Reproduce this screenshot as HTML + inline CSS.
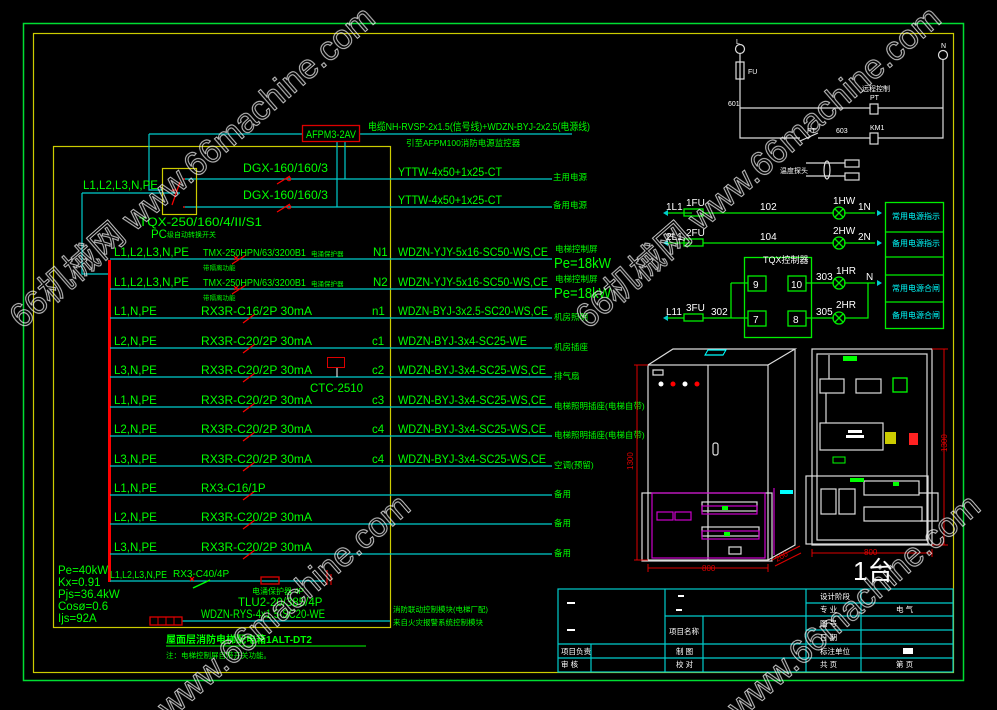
<!DOCTYPE html>
<html><head><meta charset="utf-8"><style>
html,body{margin:0;padding:0;background:#000;width:997px;height:710px;overflow:hidden}
svg{display:block}
text{font-family:"Liberation Sans","Noto Sans CJK SC",sans-serif}
.g{fill:#00ff00}
.w{fill:#fff}
.cy{fill:#00ffff}
</style></head><body>
<svg width="997" height="710" viewBox="0 0 997 710" xmlns="http://www.w3.org/2000/svg">
<rect width="997" height="710" fill="#000"/>
<rect x="23.5" y="23.5" width="940" height="657" fill="none" stroke="#00dd33" stroke-width="1.5"/>
<rect x="33.5" y="33.5" width="920" height="639" fill="none" stroke="#cccc00" stroke-width="1.2"/>

<rect x="53.5" y="146.5" width="337" height="481" fill="none" stroke="#cccc00" stroke-width="1.2"/>
<rect x="108" y="260" width="3" height="322" fill="#ff0000"/>

<g stroke="#00cccc" stroke-width="1.2" fill="none">
<path d="M149 134 H302 M360 134 H572"/>
<path d="M149 134 V190 H162"/>
<path d="M82 193 H180 M82 193 V274 H108"/>
<path d="M337 142 V207 M345 142 V179"/>
<path d="M183 179 H552 M183 207 H552"/>
<path d="M110 259 H552 M110 289 H552 M110 318 H552 M110 348 H552 M110 377 H552 M110 407 H552 M110 436 H552 M110 466 H552 M110 495 H552 M110 524 H552 M110 554 H552"/>
<path d="M110 581 H325 M182 621 H390"/>
</g>
<rect x="302.5" y="125.5" width="57" height="16" fill="none" stroke="#dd0000" stroke-width="1.3"/>
<text x="331" y="138" class="g" font-size="11" text-anchor="middle" textLength="50" lengthAdjust="spacingAndGlyphs">AFPM3-2AV</text>
<rect x="162.5" y="168.5" width="34" height="46" fill="none" stroke="#cccc00" stroke-width="1.2"/>
<g stroke="#ff0000" stroke-width="1.2" fill="none">
<path d="M180 182 L172 205 M183 179 h2 M183 207 h2 M172 190 h4"/>
<path d="M277 184 L290 176 M277 212 L290 204"/>
</g>
<circle cx="289" cy="179" r="1.8" fill="none" stroke="#f00"/><circle cx="289" cy="207" r="1.8" fill="none" stroke="#f00"/>
<g stroke="#ff0000" stroke-width="1.2" fill="none">
<path d="M232 264 L246 255 M232 294 L246 285 M243 323 L255 314 M243 353 L255 344 M243 382 L255 373 M243 412 L255 403 M243 441 L255 432 M243 471 L255 462 M243 500 L255 491 M243 529 L255 520 M243 559 L255 550"/>
<path d="M234 256 l4 4 M238 256 l-4 4 M234 286 l4 4 M238 286 l-4 4"/>
<path d="M190 577 l4 4 M194 577 l-4 4"/>
</g>
<path d="M193 588 L210 580" stroke="#00ff00" stroke-width="1.5"/>
<rect x="261" y="577" width="18" height="7" fill="none" stroke="#dd0000" stroke-width="1.3"/>
<path d="M327 570 V585 M331 574 V585" stroke="#f00"/>
<rect x="150" y="617" width="32" height="8" fill="none" stroke="#dd0000" stroke-width="1.3"/>
<path d="M158 617V625M166 617V625M174 617V625" stroke="#d00"/>
<rect x="327.5" y="357.5" width="17" height="10" fill="none" stroke="#dd0000"/>
<path d="M337 368 V377" stroke="#fff"/>

<g class="g" font-size="11.5" lengthAdjust="spacingAndGlyphs">
<text x="368" y="130" font-size="10.5" textLength="222" lengthAdjust="spacingAndGlyphs">电缆NH-RVSP-2x1.5(信号线)+WDZN-BYJ-2x2.5(电源线)</text>
<text x="406" y="146" font-size="8.5">引至AFPM100消防电源监控器</text>
<text x="243" y="172" textLength="85" lengthAdjust="spacingAndGlyphs">DGX-160/160/3</text>
<text x="243" y="199" textLength="85" lengthAdjust="spacingAndGlyphs">DGX-160/160/3</text>
<text x="398" y="176" textLength="104" lengthAdjust="spacingAndGlyphs">YTTW-4x50+1x25-CT</text>
<text x="398" y="204" textLength="104" lengthAdjust="spacingAndGlyphs">YTTW-4x50+1x25-CT</text>
<text x="553" y="180" font-size="8.5">主用电源</text>
<text x="553" y="208" font-size="8.5">备用电源</text>
<text x="83" y="189" textLength="75" lengthAdjust="spacingAndGlyphs">L1,L2,L3,N,PE</text>
<text x="139" y="226" textLength="123" lengthAdjust="spacingAndGlyphs">TQX-250/160/4/II/S1</text>
<text x="151" y="238">PC</text><text x="167" y="237" font-size="7">级自动转换开关</text>
<text x="114" y="256" textLength="75" lengthAdjust="spacingAndGlyphs">L1,L2,L3,N,PE</text>
<text x="114" y="286" textLength="75" lengthAdjust="spacingAndGlyphs">L1,L2,L3,N,PE</text>
<text x="203" y="256" font-size="10" textLength="103" lengthAdjust="spacingAndGlyphs">TMX-250HPN/63/3200B1</text>
<text x="203" y="286" font-size="10" textLength="103" lengthAdjust="spacingAndGlyphs">TMX-250HPN/63/3200B1</text>
<text x="311" y="256" font-size="6.5">电涌保护器</text>
<text x="311" y="286" font-size="6.5">电涌保护器</text>
<text x="203" y="270" font-size="6.5">带隔离功能</text>
<text x="203" y="300" font-size="6.5">带隔离功能</text>
<text x="373" y="256">N1</text><text x="373" y="286">N2</text>
<text x="398" y="256" textLength="150" lengthAdjust="spacingAndGlyphs">WDZN-YJY-5x16-SC50-WS,CE</text>
<text x="398" y="286" textLength="150" lengthAdjust="spacingAndGlyphs">WDZN-YJY-5x16-SC50-WS,CE</text>
<text x="555" y="252" font-size="8.5">电梯控制屏</text>
<text x="554" y="268" font-size="15" textLength="57" lengthAdjust="spacingAndGlyphs">Pe=18kW</text>
<text x="555" y="282" font-size="8.5">电梯控制屏</text>
<text x="554" y="298" font-size="15" textLength="57" lengthAdjust="spacingAndGlyphs">Pe=18kW</text>
<text x="114" y="315">L1,N,PE</text><text x="201" y="315" textLength="111" lengthAdjust="spacingAndGlyphs">RX3R-C16/2P 30mA</text><text x="372" y="315">n1</text><text x="398" y="315" textLength="150" lengthAdjust="spacingAndGlyphs">WDZN-BYJ-3x2.5-SC20-WS,CE</text><text x="554" y="320" font-size="8.5">机房照明</text>
<text x="114" y="345">L2,N,PE</text><text x="201" y="345" textLength="111" lengthAdjust="spacingAndGlyphs">RX3R-C20/2P 30mA</text><text x="372" y="345">c1</text><text x="398" y="345" textLength="129" lengthAdjust="spacingAndGlyphs">WDZN-BYJ-3x4-SC25-WE</text><text x="554" y="350" font-size="8.5">机房插座</text>
<text x="114" y="374">L3,N,PE</text><text x="201" y="374" textLength="111" lengthAdjust="spacingAndGlyphs">RX3R-C20/2P 30mA</text><text x="372" y="374">c2</text><text x="398" y="374" textLength="148" lengthAdjust="spacingAndGlyphs">WDZN-BYJ-3x4-SC25-WS,CE</text><text x="554" y="379" font-size="8.5">排气扇</text>
<text x="310" y="392">CTC-2510</text>
<text x="114" y="404">L1,N,PE</text><text x="201" y="404" textLength="111" lengthAdjust="spacingAndGlyphs">RX3R-C20/2P 30mA</text><text x="372" y="404">c3</text><text x="398" y="404" textLength="148" lengthAdjust="spacingAndGlyphs">WDZN-BYJ-3x4-SC25-WS,CE</text><text x="554" y="409" font-size="8.5">电梯照明插座(电梯自带)</text>
<text x="114" y="433">L2,N,PE</text><text x="201" y="433" textLength="111" lengthAdjust="spacingAndGlyphs">RX3R-C20/2P 30mA</text><text x="372" y="433">c4</text><text x="398" y="433" textLength="148" lengthAdjust="spacingAndGlyphs">WDZN-BYJ-3x4-SC25-WS,CE</text><text x="554" y="438" font-size="8.5">电梯照明插座(电梯自带)</text>
<text x="114" y="463">L3,N,PE</text><text x="201" y="463" textLength="111" lengthAdjust="spacingAndGlyphs">RX3R-C20/2P 30mA</text><text x="372" y="463">c4</text><text x="398" y="463" textLength="148" lengthAdjust="spacingAndGlyphs">WDZN-BYJ-3x4-SC25-WS,CE</text><text x="554" y="468" font-size="8.5">空调(预留)</text>
<text x="114" y="492">L1,N,PE</text><text x="201" y="492">RX3-C16/1P</text><text x="554" y="497" font-size="8.5">备用</text>
<text x="114" y="521">L2,N,PE</text><text x="201" y="521" textLength="111" lengthAdjust="spacingAndGlyphs">RX3R-C20/2P 30mA</text><text x="554" y="526" font-size="8.5">备用</text>
<text x="114" y="551">L3,N,PE</text><text x="201" y="551" textLength="111" lengthAdjust="spacingAndGlyphs">RX3R-C20/2P 30mA</text><text x="554" y="556" font-size="8.5">备用</text>
<text x="110" y="578" font-size="10" textLength="57" lengthAdjust="spacingAndGlyphs">L1,L2,L3,N,PE</text><text x="173" y="577" font-size="10">RX3-C40/4P</text>
<text x="252" y="594" font-size="8">电涌保护器 4P</text>
<text x="238" y="606">TLU2-20/385/4P</text>
<text x="201" y="618" textLength="124" lengthAdjust="spacingAndGlyphs">WDZN-RYS-4x1.5-SC20-WE</text>
<text x="393" y="612" font-size="7.5">消防联动控制模块(电梯厂配)</text>
<text x="393" y="625" font-size="7.5">来自火灾报警系统控制模块</text>
<text x="58" y="574">Pe=40kW</text>
<text x="58" y="586">Kx=0.91</text>
<text x="58" y="598">Pjs=36.4kW</text>
<text x="58" y="610">Cosø=0.6</text>
<text x="58" y="622">Ijs=92A</text>
<text x="166" y="643" font-size="10" font-weight="bold">屋面层消防电梯配电箱1ALT-DT2</text>
<text x="166" y="658" font-size="7.5">注：电梯控制屏自带开关功能。</text>
</g>
<path d="M166 646 H366" stroke="#00ff00"/>

<g stroke="#ddd" stroke-width="1.2" fill="none">
<circle cx="740" cy="49" r="4.5"/><circle cx="943" cy="55" r="4.5"/>
<rect x="736" y="62" width="8" height="17"/>
<path d="M740 54 V138 H800 M800 141 L818 133 M818 138 H870 M878 138 H943 V60"/>
<path d="M740 108 H870 M878 108 H943"/>
<rect x="870" y="104" width="8" height="10"/><rect x="870" y="133" width="8" height="11"/>
<path d="M806 163 H845 M806 176 H845"/><ellipse cx="827" cy="170" rx="3" ry="9"/>
<rect x="845" y="160" width="14" height="7"/><rect x="845" y="173" width="14" height="7"/>
</g>
<g class="w" font-size="7">
<text x="736" y="44">L</text><text x="941" y="48">N</text>
<text x="748" y="74">FU</text><text x="728" y="106">601</text>
<text x="862" y="91">远程控制</text><text x="870" y="100">PT</text>
<text x="807" y="133">PT</text><text x="836" y="133">603</text><text x="870" y="130">KM1</text>
<text x="780" y="173">温度探头</text>
</g>
<g stroke="#00ee00" stroke-width="1.3" fill="none">
<path d="M666 213 H692 M703 213 H834 M844 213 H875 M666 243 H692 M703 243 H834 M844 243 H875"/>
<rect x="684" y="209" width="19" height="7"/><rect x="684" y="239" width="19" height="7"/>
<rect x="684" y="314" width="19" height="7"/>
<path d="M666 318 H684 M703 318 H748 M731 283 V318 M731 283 H748 M806 283 H834 M844 283 H875 M806 318 H834 M844 318 H868 V283"/>
<circle cx="839" cy="213" r="6"/><circle cx="839" cy="243" r="6"/><circle cx="839" cy="283" r="6"/><circle cx="839" cy="318" r="6"/>
<path d="M835 209 l8 8 M843 209 l-8 8 M835 239 l8 8 M843 239 l-8 8 M835 279 l8 8 M843 279 l-8 8 M835 314 l8 8 M843 314 l-8 8"/>
<rect x="744.5" y="257.5" width="67" height="80"/>
<rect x="748" y="276" width="18" height="15"/><rect x="788" y="276" width="18" height="15"/>
<rect x="748" y="311" width="18" height="15"/><rect x="788" y="311" width="18" height="15"/>
<rect x="885.5" y="202.5" width="58" height="126"/>
<path d="M885 232 H943 M885 257 H943 M885 275 H943 M885 302 H943"/>
</g>
<g fill="#00cccc"><path d="M663 213 l5 -3 v6z M663 243 l5 -3 v6z M663 318 l5 -3 v6z M882 213 l-5 -3 v6z M882 243 l-5 -3 v6z M882 283 l-5 -3 v6z"/></g>
<g class="w" font-size="10">
<text x="666" y="210">1L1</text><text x="686" y="206">1FU</text><text x="760" y="210">102</text><text x="833" y="204">1HW</text><text x="858" y="210">1N</text>
<text x="666" y="240">2L1</text><text x="686" y="236">2FU</text><text x="760" y="240">104</text><text x="833" y="234">2HW</text><text x="858" y="240">2N</text>
<text x="763" y="263" font-size="9">TQX控制器</text>
<text x="753" y="288">9</text><text x="791" y="288">10</text><text x="753" y="323">7</text><text x="793" y="323">8</text>
<text x="816" y="280">303</text><text x="836" y="274">1HR</text><text x="866" y="280">N</text>
<text x="816" y="315">305</text><text x="836" y="308">2HR</text>
<text x="666" y="315">L11</text><text x="686" y="311">3FU</text><text x="711" y="315">302</text>
</g>
<g class="cy" font-size="8">
<text x="892" y="219">常用电源指示</text><text x="892" y="246">备用电源指示</text>
<text x="892" y="291">常用电源合闸</text><text x="892" y="318">备用电源合闸</text>
</g>

<g stroke="#ddd" stroke-width="1.2" fill="none">
<rect x="648" y="365" width="120" height="195"/>
<path d="M648 365 L673 349 H795 L768 365 M795 349 V545 L768 560 M708 365 V560"/>
<rect x="710" y="350" width="18" height="5" stroke="#0ff" transform="skewX(-30) translate(200,0)"/>
<rect x="713" y="443" width="5" height="12" rx="2"/>
<rect x="642" y="493" width="130" height="68"/>
<rect x="702" y="502" width="55" height="9"/><rect x="702" y="527" width="57" height="9"/>
<rect x="729" y="547" width="12" height="7"/>
<path d="M653 370 h10 v5 h-10z"/>
</g>
<g fill="none" stroke="#cc00cc" stroke-width="1.2">
<rect x="652" y="493" width="113" height="65"/><rect x="657" y="512" width="16" height="8"/><rect x="675" y="512" width="16" height="8"/>
<rect x="702" y="506" width="55" height="8"/><rect x="702" y="531" width="57" height="8"/>
<path d="M774 488 V555"/>
</g>
<rect x="780" y="490" width="13" height="4" fill="#0ff"/>
<g fill="#fff"><circle cx="661" cy="384" r="2.5"/><circle cx="685" cy="384" r="2.5"/></g>
<g fill="#f00"><circle cx="673" cy="384" r="2.5"/><circle cx="697" cy="384" r="2.5"/></g>
<rect x="722" y="506" width="6" height="4" fill="#0f0"/><rect x="724" y="532" width="6" height="4" fill="#0f0"/>
<g stroke="#dd0000" fill="none"><path d="M637 365 V560 M634 365 H648 M634 560 H648 M648 568 H768 M648 564 V572 M768 564 V572 M772 560 L800 546 M775 566 L801 553"/></g>
<text x="633" y="470" fill="#dd0000" font-size="8" transform="rotate(-90 633 470)">1300</text>
<text x="702" y="571" fill="#dd0000" font-size="8">800</text>
<text x="777" y="562" fill="#dd0000" font-size="8" transform="rotate(-30 777 562)">200</text>

<g stroke="#ddd" stroke-width="1.2" fill="none">
<rect x="812" y="349" width="120" height="196"/>
<rect x="817" y="354" width="110" height="186"/>
<rect x="820" y="379" width="24" height="14"/><rect x="856" y="379" width="25" height="14"/>
<rect x="820" y="423" width="63" height="27"/>
<rect x="806" y="476" width="122" height="68"/>
<rect x="821" y="489" width="15" height="25"/><rect x="839" y="489" width="16" height="25"/>
<rect x="864" y="481" width="55" height="14"/><rect x="864" y="507" width="58" height="14"/>
<path d="M829 355 V379 M826 393 V423 M919 493 H938 V521 H920"/>
</g>
<rect x="843" y="356" width="14" height="5" fill="#0f0"/>
<rect x="893" y="378" width="14" height="14" fill="none" stroke="#0f0" stroke-width="1.3"/>
<rect x="885" y="432" width="11" height="12" fill="#cc0"/>
<rect x="909" y="433" width="9" height="12" fill="#f22"/>
<rect x="833" y="457" width="12" height="6" fill="none" stroke="#0f0"/>
<rect x="850" y="478" width="14" height="4" fill="#0f0"/>
<rect x="893" y="482" width="6" height="4" fill="#0f0"/>
<rect x="848" y="430" width="14" height="3" fill="#fff"/><rect x="846" y="435" width="18" height="3" fill="#fff"/>
<g stroke="#dd0000" fill="none"><path d="M944 349 V545 M932 349 H948 M932 545 H948 M812 553 H932 M812 549 V557 M932 549 V557"/></g>
<text x="947" y="452" fill="#dd0000" font-size="8" transform="rotate(-90 947 452)">1300</text>
<text x="864" y="555" fill="#dd0000" font-size="8">800</text>
<text x="853" y="580" fill="#fff" font-size="26" font-family="Liberation Serif,Noto Serif CJK SC,serif">1台</text>

<g stroke="#00cccc" stroke-width="1.2" fill="none">
<rect x="558" y="589" width="395" height="83"/>
<path d="M558 658 H953 M558 644 H953 M665 616 H806 M806 603 H953 M806 616 H953 M806 630 H953"/>
<path d="M591 644 V672 M665 589 V672 M703 616 V672 M806 589 V672 M861 589 V672"/>
</g>
<g class="w" font-size="7.5">
<rect x="567" y="602" width="8" height="2" fill="#fff"/><rect x="567" y="629" width="8" height="2" fill="#fff"/>
<rect x="678" y="595" width="6" height="2" fill="#fff"/><rect x="676" y="609" width="6" height="2" fill="#fff"/>
<text x="561" y="654">项目负责</text><text x="561" y="667">审  核</text>
<text x="669" y="634">项目名称</text><text x="676" y="654">制  图</text><text x="676" y="667">校  对</text>
<text x="820" y="599">设计阶段</text><text x="820" y="612">专  业</text><text x="820" y="626">图  号</text><text x="820" y="640">日  期</text><text x="820" y="654">标注单位</text><text x="820" y="667">共  页</text>
<text x="896" y="612">电 气</text><text x="896" y="667">第 页</text>
<rect x="903" y="648" width="10" height="6" fill="#fff"/>
</g>

<g fill="none" stroke="#e8e8e8" stroke-width="1" font-size="34" opacity="0.85">
<text x="22" y="330" transform="rotate(-41 22 330)">66机械网 www.66machine.com</text>
<text x="588" y="330" transform="rotate(-41 588 330)">66机械网 www.66machine.com</text>
<text x="170" y="720" transform="rotate(-41 170 720)">www.66machine.com</text>
<text x="740" y="720" transform="rotate(-41 740 720)">www.66machine.com</text>
</g>
</svg>
</body></html>
